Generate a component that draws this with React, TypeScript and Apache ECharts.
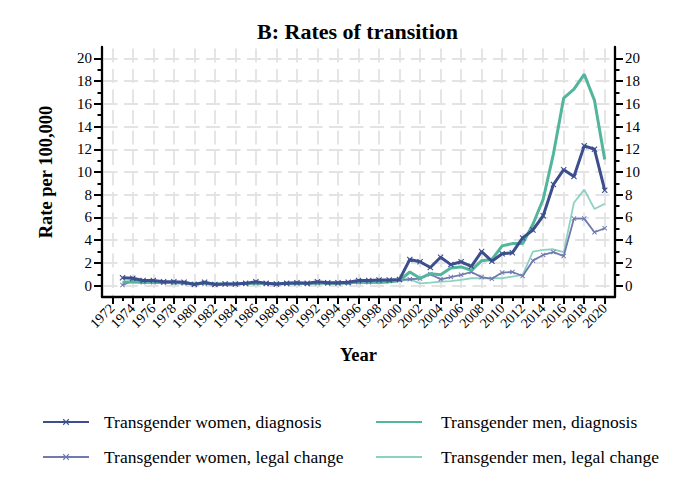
import React, { useEffect, useRef } from 'react';
import * as echarts from 'echarts';

const years = [
  1973, 1974, 1975, 1976, 1977, 1978, 1979, 1980, 1981, 1982, 1983, 1984,
  1985, 1986, 1987, 1988, 1989, 1990, 1991, 1992, 1993, 1994, 1995, 1996,
  1997, 1998, 1999, 2000, 2001, 2002, 2003, 2004, 2005, 2006, 2007, 2008,
  2009, 2010, 2011, 2012, 2013, 2014, 2015, 2016, 2017, 2018, 2019, 2020,
];

const twDiagnosis = [
  0.7, 0.65, 0.45, 0.45, 0.35, 0.35, 0.3, 0.1, 0.3, 0.1, 0.15, 0.15,
  0.2, 0.35, 0.2, 0.15, 0.2, 0.25, 0.2, 0.35, 0.25, 0.25, 0.3, 0.45,
  0.45, 0.5, 0.5, 0.55, 2.3, 2.1, 1.6, 2.5, 1.85, 2.1, 1.7, 3.0,
  2.15, 2.8, 2.9, 4.2, 4.9, 6.15, 8.9, 10.2, 9.6, 12.3, 12.0, 8.4,
];

const twLegalChange = [
  0.05, 0.45, 0.3, 0.3, 0.25, 0.25, 0.2, 0.15, 0.15, 0.1, 0.15, 0.15,
  0.15, 0.2, 0.15, 0.15, 0.15, 0.2, 0.15, 0.2, 0.2, 0.2, 0.2, 0.3,
  0.3, 0.35, 0.4, 0.5, 0.56, 0.62, 1.0, 0.56, 0.75, 0.95, 1.2, 0.75,
  0.6, 1.15, 1.2, 0.85, 2.2, 2.7, 2.95, 2.6, 5.9, 5.9, 4.7, 5.05,
];

const tmDiagnosis = [
  0.3, 0.35, 0.3, 0.3, 0.3, 0.25, 0.25, 0.15, 0.2, 0.15, 0.15, 0.15,
  0.2, 0.2, 0.2, 0.15, 0.2, 0.2, 0.2, 0.25, 0.2, 0.2, 0.25, 0.3,
  0.3, 0.3, 0.35, 0.45, 1.2, 0.65, 1.05, 0.95, 1.55, 1.65, 1.35, 2.2,
  2.3, 3.5, 3.7, 3.7, 5.4, 7.6, 11.6, 16.5, 17.3, 18.6, 16.3, 11.1,
];

const tmLegalChange = [
  0.2, 0.3, 0.25, 0.25, 0.25, 0.2, 0.2, 0.15, 0.15, 0.15, 0.15, 0.15,
  0.15, 0.2, 0.15, 0.15, 0.15, 0.2, 0.15, 0.2, 0.2, 0.2, 0.2, 0.25,
  0.25, 0.25, 0.3, 0.4, 0.55, 0.2, 0.26, 0.35, 0.4, 0.5, 0.65, 0.65,
  0.65, 0.65, 0.8, 0.95, 3.0, 3.15, 3.2, 2.95, 7.3, 8.45, 6.75, 7.2,
];

const yMajorTicks = [0, 2, 4, 6, 8, 10, 12, 14, 16, 18, 20];
const yMinorTicks = [1, 3, 5, 7, 9, 11, 13, 15, 17, 19];
const xMajorTicks = [
  1972, 1974, 1976, 1978, 1980, 1982, 1984, 1986, 1988, 1990, 1992, 1994,
  1996, 1998, 2000, 2002, 2004, 2006, 2008, 2010, 2012, 2014, 2016, 2018, 2020,
];
const xMinorTicks = [
  1973, 1975, 1977, 1979, 1981, 1983, 1985, 1987, 1989, 1991, 1993, 1995,
  1997, 1999, 2001, 2003, 2005, 2007, 2009, 2011, 2013, 2015, 2017, 2019,
];

const NAMES = {
  twDiag: 'Transgender women, diagnosis',
  twLegal: 'Transgender women, legal change',
  tmDiag: 'Transgender men, diagnosis',
  tmLegal: 'Transgender men, legal change',
};

const FONT = '"Liberation Serif", "Times New Roman", serif';
const NAVY = '#3c4e8d';
const SLATE = '#707aaf';
const TEAL = '#52b59c';
const MINT = '#8dd2c0';
const CROSS =
  'path://M0,1.3L1.3,0L5,3.7L8.7,0L10,1.3L6.3,5L10,8.7L8.7,10L5,6.3L1.3,10L0,8.7L3.7,5Z';

const pairs = (vals: number[]) => years.map((y, i) => [y, vals[i]]);

export default function App() {
  const ref = useRef<HTMLDivElement>(null);
  useEffect(() => {
    if (!ref.current) return;
    const chart = echarts.init(ref.current, null, { renderer: 'svg' });
    const gridRect = { left: 102, right: 65, top: 47, bottom: 190 };
    const axisLineStyle = { color: '#000', width: 2.3 };
    const splitStyle = { color: '#e3e3e3', width: 1.8, type: [14, 6.5], dashOffset: 18.8 };
    const legendText = (pad: number) => ({
      fontFamily: FONT,
      fontSize: 17.5,
      color: '#000',
      padding: [0, 0, 0, pad],
    });
    const option: any = {
      animation: false,
      backgroundColor: '#ffffff',
      textStyle: { fontFamily: FONT },
      title: {
        text: 'B: Rates of transition',
        left: 257,
        top: 20,
        padding: 0,
        textStyle: { fontFamily: FONT, fontWeight: 'bold', fontSize: 22, color: '#000' },
      },
      legend: [
        {
          orient: 'vertical',
          left: 42,
          top: 413,
          padding: 0,
          itemWidth: 46,
          itemHeight: 8,
          itemGap: 17,
          data: [NAMES.twDiag, NAMES.twLegal],
          textStyle: legendText(10),
        },
        {
          orient: 'vertical',
          left: 375,
          top: 413,
          padding: 0,
          itemWidth: 46,
          itemHeight: 8,
          itemGap: 17,
          itemStyle: { color: 'rgba(0,0,0,0)', borderWidth: 0 },
          data: [NAMES.tmDiag, NAMES.tmLegal],
          textStyle: legendText(14),
        },
      ],
      grid: [
        { ...gridRect },
        { ...gridRect },
      ],
      xAxis: [
        {
          type: 'value',
          gridIndex: 0,
          position: 'bottom',
          min: 1971,
          max: 2021,
          name: 'Year',
          nameLocation: 'middle',
          nameGap: 48,
          nameTextStyle: { fontFamily: FONT, fontWeight: 'bold', fontSize: 18.5, color: '#000' },
          axisLine: { show: true, onZero: false, lineStyle: axisLineStyle },
          axisTick: { show: true, customValues: xMajorTicks, length: 7, lineStyle: { color: '#000', width: 2 } },
          axisLabel: {
            customValues: xMajorTicks,
            rotate: 45,
            margin: 9,
            fontFamily: FONT,
            fontSize: 14,
            hideOverlap: false,
            showMinLabel: true,
            showMaxLabel: true,
            color: '#000',
            formatter: (v: number) => String(v),
          },
          splitLine: { show: true, lineStyle: splitStyle },
        },
        {
          type: 'value',
          gridIndex: 1,
          position: 'bottom',
          min: 1971,
          max: 2021,
          axisLine: { show: false, onZero: false },
          axisTick: { show: true, customValues: xMinorTicks, length: 4, lineStyle: { color: '#000', width: 2 } },
          axisLabel: { show: false },
          splitLine: { show: false },
        },
      ],
      yAxis: [
        {
          type: 'value',
          gridIndex: 0,
          position: 'left',
          min: -1,
          max: 21,
          name: 'Rate per 100,000',
          nameLocation: 'middle',
          nameGap: 47,
          nameTextStyle: { fontFamily: FONT, fontWeight: 'bold', fontSize: 18.5, color: '#000' },
          axisLine: { show: true, onZero: false, lineStyle: axisLineStyle },
          axisTick: { show: true, customValues: yMajorTicks, length: 8, lineStyle: { color: '#000', width: 2 } },
          axisLabel: { customValues: yMajorTicks, margin: 10, fontFamily: FONT, fontSize: 15, color: '#000' },
          splitLine: { show: true, lineStyle: splitStyle },
        },
        {
          type: 'value',
          gridIndex: 0,
          position: 'right',
          min: -1,
          max: 21,
          axisLine: { show: true, onZero: false, lineStyle: axisLineStyle },
          axisTick: { show: true, customValues: yMajorTicks, length: 8, lineStyle: { color: '#000', width: 2 } },
          axisLabel: { customValues: yMajorTicks, margin: 10, fontFamily: FONT, fontSize: 15, color: '#000' },
          splitLine: { show: false },
        },
        {
          type: 'value',
          gridIndex: 1,
          position: 'left',
          min: -1,
          max: 21,
          axisLine: { show: false, onZero: false },
          axisTick: { show: true, customValues: yMinorTicks, length: 4.5, lineStyle: { color: '#000', width: 2 } },
          axisLabel: { show: false },
          splitLine: { show: false },
        },
        {
          type: 'value',
          gridIndex: 1,
          position: 'right',
          min: -1,
          max: 21,
          axisLine: { show: false, onZero: false },
          axisTick: { show: true, customValues: yMinorTicks, length: 4.5, lineStyle: { color: '#000', width: 2 } },
          axisLabel: { show: false },
          splitLine: { show: false },
        },
      ],
      series: [
        {
          name: NAMES.tmLegal,
          type: 'line',
          xAxisIndex: 0,
          yAxisIndex: 0,
          data: pairs(tmLegalChange),
          symbol: 'none',
          lineStyle: { color: MINT, width: 1.8 },
          itemStyle: { color: MINT },
          z: 2,
        },
        {
          name: NAMES.twLegal,
          type: 'line',
          xAxisIndex: 0,
          yAxisIndex: 0,
          data: pairs(twLegalChange),
          symbol: CROSS,
          symbolSize: 5,
          showSymbol: true,
          lineStyle: { color: SLATE, width: 1.8 },
          itemStyle: { color: SLATE },
          z: 3,
        },
        {
          name: NAMES.tmDiag,
          type: 'line',
          xAxisIndex: 0,
          yAxisIndex: 0,
          data: pairs(tmDiagnosis),
          symbol: 'none',
          lineStyle: { color: TEAL, width: 3 },
          itemStyle: { color: TEAL },
          z: 4,
        },
        {
          name: NAMES.twDiag,
          type: 'line',
          xAxisIndex: 0,
          yAxisIndex: 0,
          data: pairs(twDiagnosis),
          symbol: CROSS,
          symbolSize: 6,
          showSymbol: true,
          lineStyle: { color: NAVY, width: 3 },
          itemStyle: { color: NAVY },
          z: 5,
        },
      ],
    };
    chart.setOption(option);
    return () => chart.dispose();
  }, []);
  return (
    <div
      ref={ref}
      style={{ position: 'fixed', left: 0, top: 0, width: 680, height: 487, background: '#fff' }}
    />
  );
}
